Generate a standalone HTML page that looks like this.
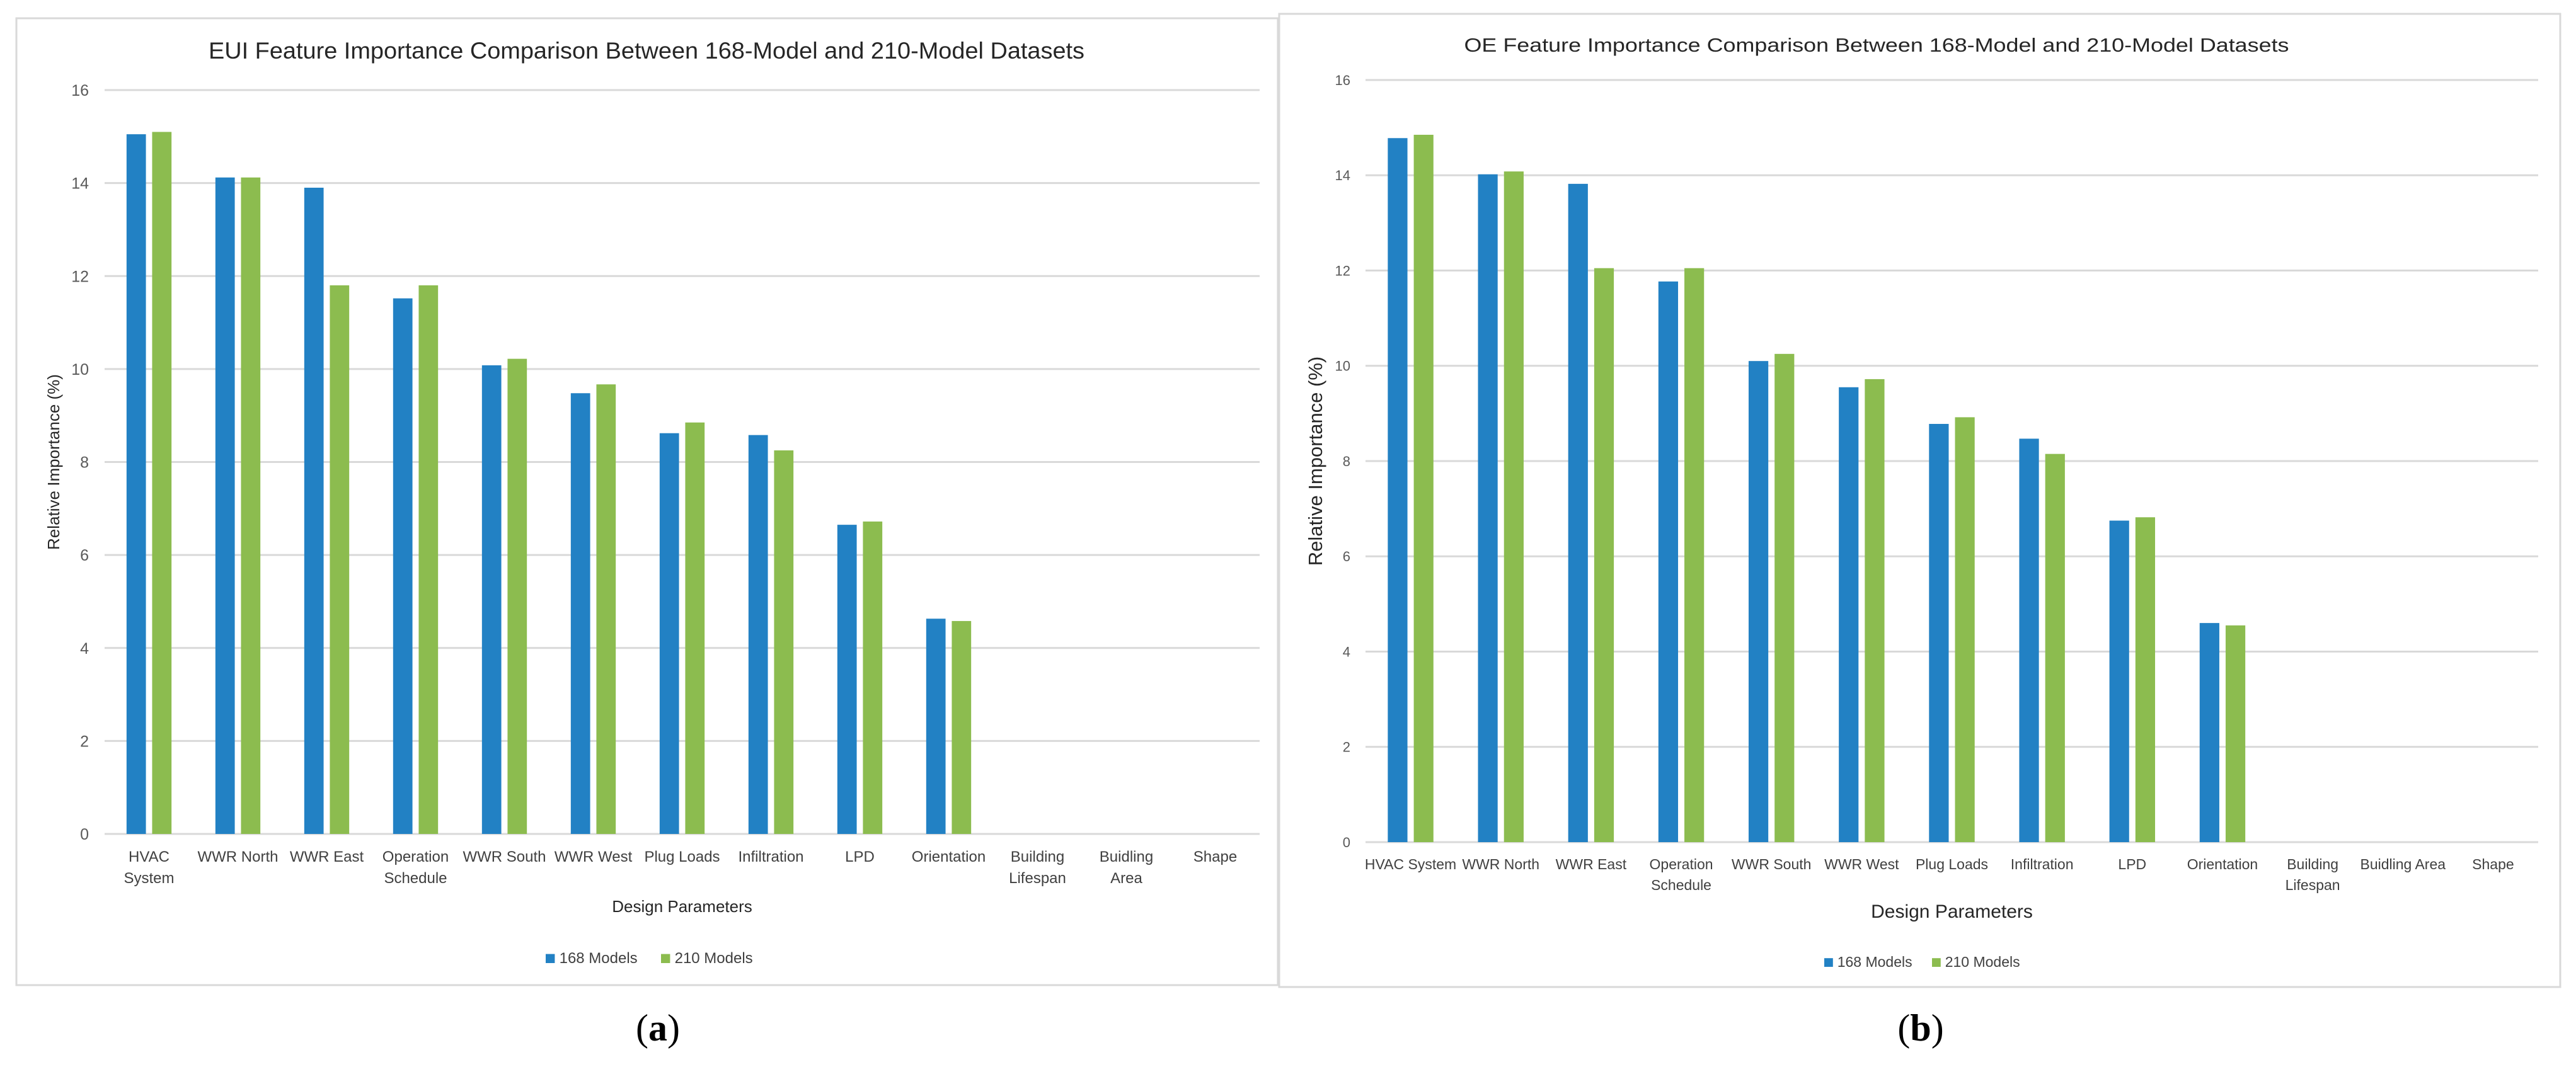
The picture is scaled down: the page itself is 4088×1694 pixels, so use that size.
<!DOCTYPE html>
<html><head><meta charset="utf-8"><style>
html,body{margin:0;padding:0;background:#fff;}
svg{display:block;font-family:"Liberation Sans",sans-serif;}
</style></head><body>
<svg id="fig" width="4088" height="1694" viewBox="0 0 4088 1694" xmlns="http://www.w3.org/2000/svg">
<rect x="0" y="0" width="4088" height="1694" fill="#fff"/>
</svg>
<script>
const categoriesA = [["HVAC","System"],["WWR North"],["WWR East"],["Operation","Schedule"],["WWR South"],["WWR West"],["Plug Loads"],["Infiltration"],["LPD"],["Orientation"],["Building","Lifespan"],["Buidling","Area"],["Shape"]];
const categoriesB = [["HVAC System"],["WWR North"],["WWR East"],["Operation","Schedule"],["WWR South"],["WWR West"],["Plug Loads"],["Infiltration"],["LPD"],["Orientation"],["Building","Lifespan"],["Buidling Area"],["Shape"]];
const euiModels168 = [15.05,14.12,13.9,11.52,10.08,9.48,8.62,8.58,6.65,4.63,0,0,0];
const euiModels210 = [15.1,14.12,11.8,11.8,10.22,9.67,8.85,8.25,6.72,4.58,0,0,0];
const oeModels168 = [14.78,14.02,13.82,11.77,10.1,9.55,8.78,8.47,6.75,4.6,0,0,0];
const oeModels210 = [14.85,14.08,12.05,12.05,10.25,9.72,8.92,8.15,6.82,4.55,0,0,0];
const yTicks = [0,2,4,6,8,10,12,14,16];
const legendLabels = ["168 Models","210 Models"];

const NS="http://www.w3.org/2000/svg";
const svg=document.getElementById('fig');
function mk(tag,attrs,parent,text){const e=document.createElementNS(NS,tag);for(const k in attrs)e.setAttribute(k,attrs[k]);if(text!==undefined)e.textContent=text;(parent||svg).appendChild(e);return e;}

function drawChart(c){
  const g=mk('g',{});
  
  
  const fr=mk('rect',{x:c.fx1,y:c.fy1,width:c.fx2-c.fx1,height:c.fy2-c.fy1,fill:'#fff',stroke:'#d9d9d9','stroke-width':3},g);
  
  
  const ymax=16;
  const yS=v=>c.y0-(v/ymax)*(c.y0-c.y16);
  const catW=(c.px2-c.px1)/c.cats.length;
  const xC=i=>c.px1+catW*(i+0.5);
  yTicks.forEach(t=>{
    const ln=mk('line',{x1:c.px1,x2:c.px2,y1:yS(t),y2:yS(t),stroke:'#d9d9d9','stroke-width':3},g);
    
    
    const tx=mk('text',{x:c.tickX,y:yS(t)+c.tickFs*0.36,'text-anchor':'end','font-size':c.tickFs,fill:'#595959'},g,String(t));
    
    
  });
  const bw=catW*0.218, gap=catW*0.035;
  c.s1.forEach((v,i)=>{
    if(v<=0)return;
    const r=mk('rect',{x:xC(i)-gap-bw,y:yS(v),width:bw,height:yS(0)-yS(v),fill:'#2281c4'},g);
    
    
  });
  c.s2.forEach((v,i)=>{
    if(v<=0)return;
    const r=mk('rect',{x:xC(i)+gap,y:yS(v),width:bw,height:yS(0)-yS(v),fill:'#8cbc4f'},g);
    
    
  });
  c.cats.forEach((lines,i)=>{
    lines.forEach((s,j)=>{
      const t=mk('text',{x:xC(i),y:c.catY+j*c.catLh,'text-anchor':'middle','font-size':c.catFs,fill:'#404040'},g,s);
      
      
    });
  });
  const ti=mk('text',{x:c.titleX,y:c.titleY,'text-anchor':'middle','font-size':c.titleFs,fill:'#262626',textLength:c.titleLen,lengthAdjust:'spacingAndGlyphs'},g,c.title);
  
  
  const xt=mk('text',{x:(c.px1+c.px2)/2,y:c.xtY,'text-anchor':'middle','font-size':c.xtFs,fill:'#262626'},g,'Design Parameters');
  
  
  const ym=(c.y0+c.y16)/2;
  const yt=mk('text',{x:c.ytX,y:ym,'text-anchor':'middle','font-size':c.ytFs,fill:'#262626',transform:`rotate(-90 ${c.ytX} ${ym})`},g,'Relative Importance (%)');
  
  
  const cols=['#2281c4','#8cbc4f'];
  legendLabels.forEach((lab,k)=>{
    const lg=mk('g',{},g);
    
    
    const sx=c.legX[k];
    mk('rect',{x:sx,y:c.legY-c.legFs*0.6,width:c.legFs*0.6,height:c.legFs*0.6,fill:cols[k]},lg);
    mk('text',{x:sx+c.legFs*0.9,y:c.legY,'font-size':c.legFs,fill:'#404040'},lg,lab);
  });
  const cap=mk('text',{x:c.capX,y:1652,'text-anchor':'middle','font-size':60,'font-family':'Liberation Serif, serif',fill:'#000'});
  
  
  mk('tspan',{},cap,'(');
  mk('tspan',{'font-weight':'bold'},cap,c.id);
  mk('tspan',{},cap,')');
}

drawChart({id:'a',fx1:26,fy1:29,fx2:2028,fy2:1564,px1:166,px2:1999,y0:1324,y16:143,
  cats:categoriesA,s1:euiModels168,s2:euiModels210,tickX:141,tickFs:25,catFs:24,catY:1368,catLh:34,
  title:'EUI Feature Importance Comparison Between 168-Model and 210-Model Datasets',titleX:1026,titleY:93,titleFs:37,titleLen:1390,
  xtY:1448,xtFs:26,ytX:94,ytFs:26,legX:[866,1049],legY:1529,legFs:24,capX:1044});
drawChart({id:'b',fx1:2030,fy1:22,fx2:4063,fy2:1567,px1:2167,px2:4028,y0:1337,y16:127,
  cats:categoriesB,s1:oeModels168,s2:oeModels210,tickX:2143,tickFs:22,catFs:23,catY:1380,catLh:33,
  title:'OE Feature Importance Comparison Between 168-Model and 210-Model Datasets',titleX:2978,titleY:82,titleFs:31,titleLen:1309,
  xtY:1457,xtFs:30,ytX:2098,ytFs:31,legX:[2895,3066],legY:1535,legFs:23,capX:3048});
</script>
</body></html>
